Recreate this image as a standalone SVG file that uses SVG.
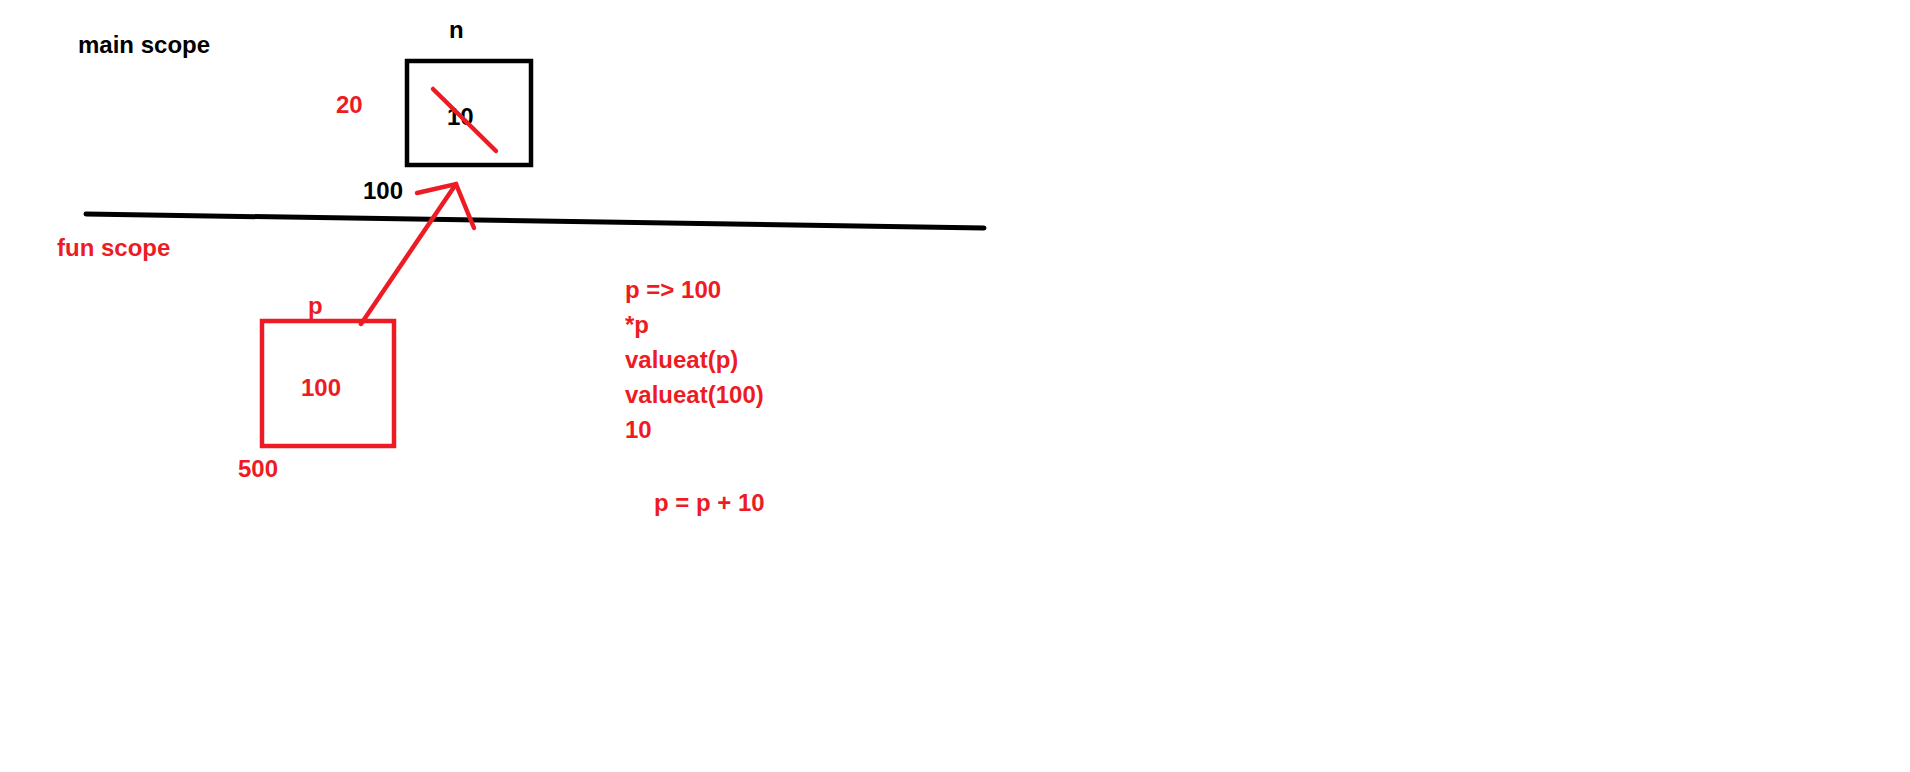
<svg xmlns="http://www.w3.org/2000/svg" width="1910" height="772" viewBox="0 0 1910 772">
<style>
.t{font-family:"Liberation Sans",Arial,sans-serif;font-weight:bold;font-size:24px}
.k{fill:#000}
.r{fill:#ED1C24}
.bx{fill:none;stroke-width:4.5}
.rl{stroke:#ED1C24;stroke-width:4.5;stroke-linecap:round;fill:none}
</style>
<rect width="1910" height="772" fill="#fff"/>
<text class="t k" x="78" y="53">main scope</text>
<text class="t r" x="57" y="256">fun scope</text>
<path d="M86 214 L984 228" stroke="#000" stroke-width="5" stroke-linecap="round"/>
<g id="node-n">
<text class="t k" x="449" y="38">n</text>
<rect class="bx" x="407" y="61" width="124" height="104" stroke="#000"/>
<text class="t k" x="447" y="125">10</text>
<path class="rl" d="M433 89 L496 151"/>
<text class="t r" x="336" y="113">20</text>
<text class="t k" x="363" y="199">100</text>
</g>
<g id="node-p">
<text class="t r" x="308" y="314">p</text>
<rect class="bx" x="262" y="321" width="132" height="125" stroke="#ED1C24"/>
<text class="t r" x="301" y="396">100</text>
<text class="t r" x="238" y="477">500</text>
</g>
<g id="connectors">
<path class="rl" d="M361 324 L456 184"/>
<path class="rl" d="M417 193 L456 184 L474 228"/>
</g>
<g id="notes">
<text class="t r" x="625" y="298">p =&gt; 100</text>
<text class="t r" x="625" y="333">*p</text>
<text class="t r" x="625" y="368">valueat(p)</text>
<text class="t r" x="625" y="403">valueat(100)</text>
<text class="t r" x="625" y="438">10</text>
<text class="t r" x="654" y="511">p = p + 10</text>
</g>
</svg>
